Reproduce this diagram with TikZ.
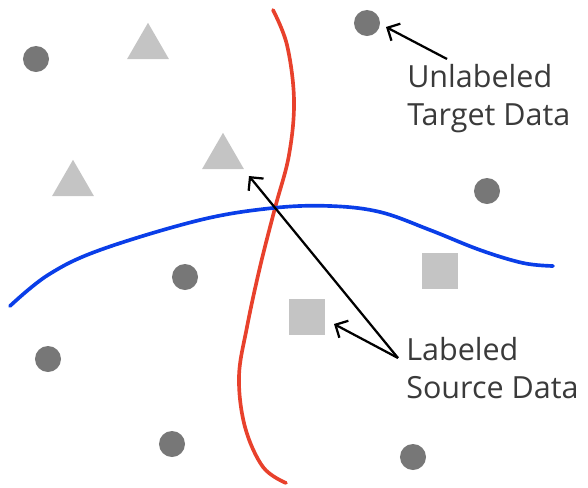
\documentclass[tikz,border=0pt]{standalone}
\usepackage{fontspec}
\setmainfont{Open Sans}
\usetikzlibrary{arrows.meta,shapes.geometric}

\definecolor{darkdot}{HTML}{777777}
\definecolor{lightmark}{HTML}{C4C4C4}
\definecolor{redline}{HTML}{E8412C}
\definecolor{blueline}{HTML}{0A3EE8}
\definecolor{labeltext}{HTML}{3A3A3A}

\tikzset{
  target/.style={circle, fill=darkdot, minimum size=0.65cm, inner sep=0pt},
  srctri/.style={regular polygon, regular polygon sides=3, fill=lightmark, minimum size=1.21cm, inner sep=0pt},
  srcsq/.style={rectangle, fill=lightmark, minimum size=0.9cm, inner sep=0pt},
  pointer/.style={black, line width=1.6pt, -{Straight Barb[length=2.4mm, width=4.8mm, line width=1.6pt]}},
  caption/.style={align=left, inner sep=0pt, text=labeltext, font=\fontsize{21.7}{27}\selectfont}
}

\begin{document}
\begin{tikzpicture}[x=0.025cm, y=-0.025cm]
    \useasboundingbox (0,0) rectangle (588,488);

    % unlabeled target points
    \node[target] (t1) at (36,59) {};
    \node[target] (t2) at (367,23) {};
    \node[target] (t3) at (487,191) {};
    \node[target] (t4) at (185,277) {};
    \node[target] (t5) at (48,359) {};
    \node[target] (t6) at (172,444) {};
    \node[target] (t7) at (413,457) {};

    % labeled source points
    \node[srctri] (s1) at (148,47) {};
    \node[srctri] (s2) at (223,157) {};
    \node[srctri] (s3) at (73,184) {};
    \node[srcsq] (s4) at (440,271) {};
    \node[srcsq] (s5) at (307,317) {};

    % decision boundaries
    \draw[redline, line width=2.6pt, line cap=round] plot[smooth, tension=0.6] coordinates {(273,10) (287,45) (294,100) (289,155) (275,208) (260,267) (247,327) (239,377) (245,427) (263,467) (286,483)}; % source boundary
    \draw[blueline, line width=2.6pt, line cap=round] plot[smooth, tension=0.6] coordinates {(10,306) (48,275) (100,250) (200,220) (273,208) (330,206) (380,212) (430,230) (480,250) (523,263) (553,266)}; % target boundary

    % labels
    \node[caption, anchor=west] (unl) at (407,99) {Unlabeled\\Target Data};
    \node[caption, anchor=west] (lab) at (406,368) {Labeled\\Source Data};

    \coordinate (unlfoot) at (447,59);
    \coordinate (labfoot) at (398,358);
    \coordinate (t2tip) at (386,27);
    \coordinate (s2tip) at (249,176);
    \coordinate (s5tip) at (334,324);

    \draw[pointer] (unlfoot) -- (t2tip); % to target point
    \draw[pointer] (labfoot) -- (s2tip); % to triangle
    \draw[pointer] (labfoot) -- (s5tip); % to square
\end{tikzpicture}
\end{document}
